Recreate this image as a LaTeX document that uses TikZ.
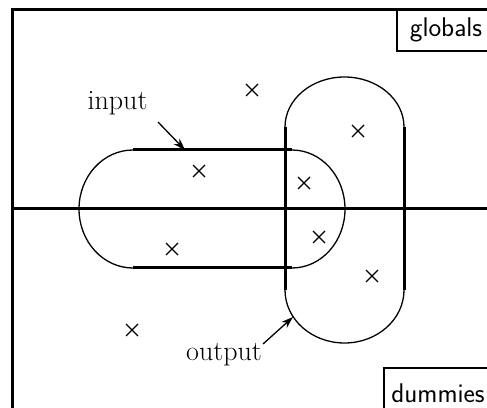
\documentclass[tikz,border=0pt]{standalone}
\usetikzlibrary{arrows.meta}
\begin{document}
\begin{tikzpicture}[x=1pt,y=1pt,
  thickline/.style={line width=3pt},
  thinline/.style={line width=1.3pt},
  crossmark/.style={line width=1.2pt},
  lbl/.style={font=\fontsize{28}{32}\selectfont, inner sep=0pt, anchor=base},
  boxlbl/.style={font=\fontsize{27}{32}\selectfont\sffamily, inner sep=0pt, anchor=base},
  pointer/.style={line width=1.3pt, -{Stealth[length=12pt,width=8pt]}}]
\useasboundingbox (0,0) rectangle (487,407);
\clip (0,0) rectangle (487,407);
% frame
\draw[thickline] (12,-10) -- (12,397) -- (500,397);
% axis
\draw[thickline] (12,198) -- (500,198);
% globals box
\draw[line width=2pt] (397,397) -- (397,356) -- (500,356);
\node[boxlbl] (globals) at (446,370) {globals};
% dummies box
\draw[line width=2pt] (384,-10) -- (384,39) -- (500,39);
\node[boxlbl] (dummies) at (438,5) {dummies};
% horizontal stadium
\draw[thickline] (133,257) -- (292,257);
\draw[thickline] (133,139) -- (292,139);
\draw[thinline] (133,257) arc[start angle=90,end angle=270,x radius=54,y radius=59];
\draw[thinline] (292,139) arc[start angle=-90,end angle=90,x radius=53,y radius=59];
% vertical stadium
\draw[thickline] (285,280) -- (285,117);
\draw[thickline] (404,280) -- (404,117);
\draw[thinline] (404,280) arc[start angle=0,end angle=180,x radius=59.5,y radius=50];
\draw[thinline] (285,117) arc[start angle=180,end angle=360,x radius=59.5,y radius=53];
% crosses
\foreach \px/\py in {252/317, 358/276, 199/236, 304/224, 319/170, 172/158, 372/131, 132/77}
  \draw[crossmark] (\px-6,\py-6) -- (\px+6,\py+6) (\px-6,\py+6) -- (\px+6,\py-6);
% labels
\node[lbl] (input) at (117.5,297) {input};
\node[lbl] (output) at (224,47) {output};
\coordinate (intip) at (185,257);
\coordinate (outtip) at (293,90);
\coordinate (infrom) at (158,285);
\coordinate (outfrom) at (263,63);
\draw[pointer] (infrom) -- (intip);
\draw[pointer] (outfrom) -- (outtip);
\end{tikzpicture}
\end{document}
